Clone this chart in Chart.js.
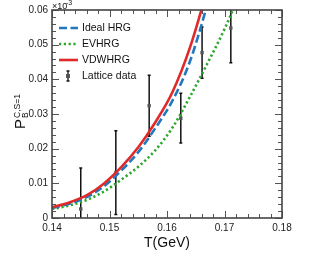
<!DOCTYPE html>
<html>
<head>
<meta charset="utf-8">
<script src="https://cdn.jsdelivr.net/npm/chart.js@4"></script>
<style>
  html, body { margin: 0; padding: 0; background: #fff; }
  #wrap { width: 319px; height: 257px; }
</style>
</head>
<body>
<div id="wrap"><canvas id="chart"></canvas></div>
<script>
// temperature grid (GeV) for the model curves
const T_GRID = [0.140, 0.143, 0.146, 0.149, 0.152, 0.155, 0.158, 0.161, 0.164, 0.167, 0.170, 0.173];
const IDEAL_HRG = [0.0029, 0.0041, 0.0060, 0.0091, 0.0136, 0.0190, 0.0260, 0.0340, 0.0452, 0.0615, 0.080, 0.100];
const EV_HRG = [0.0026, 0.0036, 0.0052, 0.0076, 0.0110, 0.0148, 0.0196, 0.0262, 0.0350, 0.0445, 0.0545, 0.066];
const VDW_HRG = [0.0031, 0.0045, 0.0065, 0.0099, 0.0146, 0.0204, 0.0277, 0.0365, 0.0492, 0.066, 0.085, 0.110];

// lattice points with symmetric errors
const LATTICE_T = [0.1450, 0.1511, 0.1569, 0.1624, 0.1661, 0.1711];
const LATTICE_P = [0.0026, 0.0131, 0.0324, 0.0288, 0.0477, 0.0548];
const LATTICE_ERR = [0.0118, 0.0121, 0.0088, 0.0072, 0.0074, 0.0100];

const X_TICKS = [0.14, 0.15, 0.16, 0.17, 0.18];
const Y_TICKS = [0, 0.01, 0.02, 0.03, 0.04, 0.05, 0.06];
const LEGEND_LABELS = ['Ideal HRG', 'EVHRG', 'VDWHRG', 'Lattice data'];

const toPoints = (xs, ys) => xs.map((x, i) => ({ x, y: ys[i] }));

const FONT = 'Liberation Sans, Arial, Helvetica, sans-serif';

// frame + inward ticks on all four sides (ROOT style)
const framePlugin = {
  id: 'frame',
  afterDatasetsDraw(chart) {
    const { ctx, chartArea: a, scales: { x, y } } = chart;
    ctx.save();
    ctx.strokeStyle = '#555';
    ctx.lineWidth = 1;
    for (let v = 0.14; v <= 0.1801; v += 0.002) {
      const px = Math.round(x.getPixelForValue(v)) + 0.5;
      const major = Math.abs(v * 100 - Math.round(v * 100)) < 1e-6;
      const len = major ? 7 : 4;
      ctx.beginPath();
      ctx.moveTo(px, a.bottom); ctx.lineTo(px, a.bottom - len);
      ctx.moveTo(px, a.top); ctx.lineTo(px, a.top + len);
      ctx.stroke();
    }
    for (let v = 0; v <= 0.0601; v += 0.002) {
      const py = Math.round(y.getPixelForValue(v)) + 0.5;
      const major = Math.abs(v * 100 - Math.round(v * 100)) < 1e-6;
      const len = major ? 7 : 4;
      ctx.beginPath();
      ctx.moveTo(a.left, py); ctx.lineTo(a.left + len, py);
      ctx.moveTo(a.right, py); ctx.lineTo(a.right - len, py);
      ctx.stroke();
    }
    ctx.lineWidth = 1.6;
    ctx.strokeStyle = '#444';
    ctx.strokeRect(a.left, a.top, a.right - a.left, a.bottom - a.top);
    ctx.restore();
  }
};

// vertical error bars for the lattice set, drawn under the curves
const errorBarPlugin = {
  id: 'errorBars',
  beforeDatasetsDraw(chart) {
    const { ctx, chartArea: a, scales: { x, y } } = chart;
    ctx.save();
    ctx.beginPath();
    ctx.rect(a.left, a.top, a.right - a.left, a.bottom - a.top);
    ctx.clip();
    ctx.strokeStyle = '#111';
    ctx.lineWidth = 1.5;
    LATTICE_T.forEach((t, i) => {
      const px = x.getPixelForValue(t);
      const hi = y.getPixelForValue(LATTICE_P[i] + LATTICE_ERR[i]);
      const lo = y.getPixelForValue(LATTICE_P[i] - LATTICE_ERR[i]);
      ctx.beginPath();
      ctx.moveTo(px, hi); ctx.lineTo(px, lo);
      ctx.moveTo(px - 1.5, hi); ctx.lineTo(px + 1.5, hi);
      ctx.moveTo(px - 1.5, lo); ctx.lineTo(px + 1.5, lo);
      ctx.stroke();
    });
    ctx.restore();
  }
};

// y title with super/subscript, multiplier label and in-plot legend
const textPlugin = {
  id: 'texts',
  afterDraw(chart) {
    const { ctx, chartArea: a } = chart;
    ctx.save();
    ctx.fillStyle = '#111';
    ctx.textBaseline = 'alphabetic';

    // multiplier
    ctx.font = '9px ' + FONT;
    ctx.fillText('\u00d710', a.left, 9);
    ctx.font = '7px ' + FONT;
    ctx.fillText('-3', a.left + 14, 5);

    // y title, rotated
    ctx.save();
    ctx.translate(25, 129);
    ctx.rotate(-Math.PI / 2);
    ctx.font = '15px ' + FONT;
    ctx.fillText('P', 0, 0);
    const pw = ctx.measureText('P').width;
    ctx.font = '8.5px ' + FONT;
    ctx.fillText('C,S=1', pw + 1, -5);
    ctx.fillText('B', pw + 1, 3);
    ctx.restore();

    // legend
    const ds = chart.data.datasets;
    const rows = [28, 44, 60, 76];
    ctx.font = '10.5px ' + FONT;
    ctx.textBaseline = 'middle';
    for (let i = 0; i < 3; i++) {
      const d = ds[i];
      ctx.beginPath();
      ctx.strokeStyle = d.borderColor;
      ctx.lineWidth = d.borderWidth;
      ctx.setLineDash(d.borderDash || []);
      ctx.moveTo(59, rows[i]);
      ctx.lineTo(78, rows[i]);
      ctx.stroke();
      ctx.setLineDash([]);
      ctx.fillStyle = '#111';
      ctx.fillText(LEGEND_LABELS[i], 82, rows[i] + 0.5);
    }
    const ly = rows[3];
    ctx.strokeStyle = '#111';
    ctx.lineWidth = 1.3;
    ctx.beginPath();
    ctx.moveTo(68, ly - 5); ctx.lineTo(68, ly + 5);
    ctx.moveTo(66.5, ly - 5); ctx.lineTo(69.5, ly - 5);
    ctx.moveTo(66.5, ly + 5); ctx.lineTo(69.5, ly + 5);
    ctx.stroke();
    ctx.fillStyle = '#555';
    ctx.fillRect(66, ly - 2, 4, 4);
    ctx.fillStyle = '#111';
    ctx.fillText(LEGEND_LABELS[3], 82, ly + 0.5);
    ctx.restore();
  }
};

new Chart(document.getElementById('chart'), {
  type: 'line',
  data: {
    datasets: [
      {
        label: LEGEND_LABELS[0],
        data: toPoints(T_GRID, IDEAL_HRG),
        borderColor: '#2378bd',
        borderWidth: 2.6,
        borderDash: [8, 3.5],
        pointRadius: 0,
        cubicInterpolationMode: 'monotone',
        order: 1
      },
      {
        label: LEGEND_LABELS[1],
        data: toPoints(T_GRID, EV_HRG),
        borderColor: '#2ca52c',
        borderWidth: 2.6,
        borderDash: [2.2, 2.6],
        pointRadius: 0,
        cubicInterpolationMode: 'monotone',
        order: 2
      },
      {
        label: LEGEND_LABELS[2],
        data: toPoints(T_GRID, VDW_HRG),
        borderColor: '#e02a2a',
        borderWidth: 2.6,
        pointRadius: 0,
        cubicInterpolationMode: 'monotone',
        order: 0
      },
      {
        label: LEGEND_LABELS[3],
        data: toPoints(LATTICE_T, LATTICE_P),
        showLine: false,
        pointStyle: 'rect',
        pointRadius: 2.4,
        pointBackgroundColor: '#555',
        pointBorderColor: '#555',
        pointBorderWidth: 0,
        order: 5
      }
    ]
  },
  options: {
    responsive: true,
    maintainAspectRatio: false,
    animation: false,
    layout: { padding: { left: 0, top: 10, right: 37, bottom: 0 } },
    plugins: {
      legend: { display: false },
      tooltip: { enabled: false }
    },
    scales: {
      x: {
        type: 'linear',
        min: 0.14,
        max: 0.18,
        afterBuildTicks: s => { s.ticks = X_TICKS.map(v => ({ value: v })); },
        afterFit: s => { s.height = 39; },
        grid: { display: false, drawTicks: false },
        border: { display: false },
        ticks: {
          padding: 4,
          color: '#222',
          font: { family: FONT, size: 10 },
          callback: v => String(+v.toFixed(2))
        },
        title: {
          display: true,
          text: 'T(GeV)',
          color: '#111',
          font: { family: FONT, size: 14 },
          padding: { top: 0, bottom: 5 }
        }
      },
      y: {
        type: 'linear',
        min: 0,
        max: 0.06,
        afterBuildTicks: s => { s.ticks = Y_TICKS.map(v => ({ value: v })); },
        afterFit: s => { s.width = 52; },
        grid: { display: false, drawTicks: false },
        border: { display: false },
        ticks: {
          padding: 4,
          color: '#222',
          font: { family: FONT, size: 10 },
          callback: v => String(+v.toFixed(2))
        }
      }
    }
  },
  plugins: [errorBarPlugin, framePlugin, textPlugin]
});
</script>
</body>
</html>
